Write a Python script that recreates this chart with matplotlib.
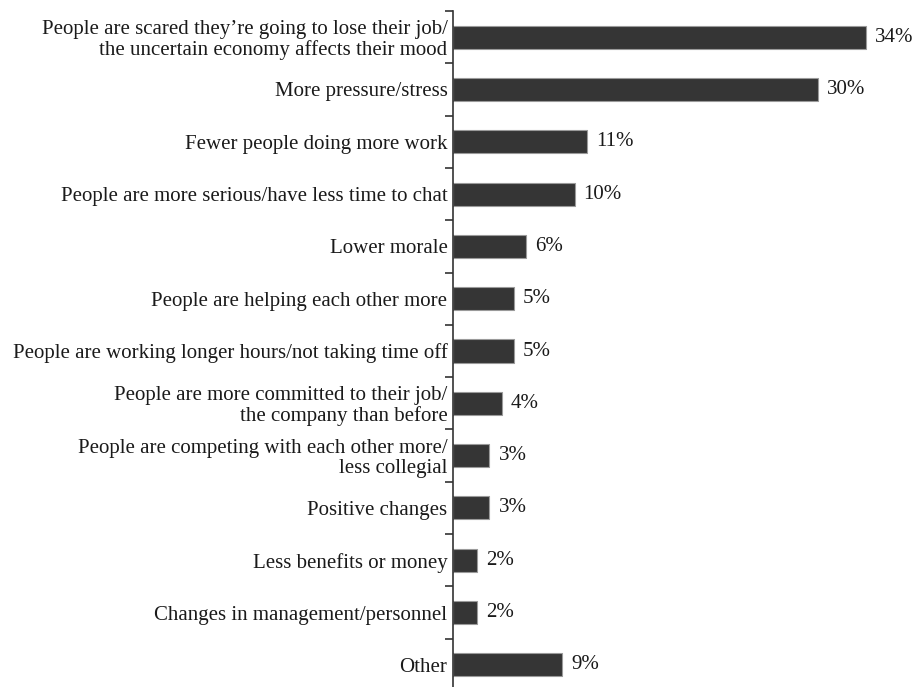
import matplotlib
matplotlib.use("Agg")
import matplotlib.pyplot as plt
import numpy as np

categories = [
    "People are scared they\u2019re going to lose their job/\nthe uncertain economy affects their mood",
    "More pressure/stress",
    "Fewer people doing more work",
    "People are more serious/have less time to chat",
    "Lower morale",
    "People are helping each other more",
    "People are working longer hours/not taking time off",
    "People are more committed to their job/\nthe company than before",
    "People are competing with each other more/\nless collegial",
    "Positive changes",
    "Less benefits or money",
    "Changes in management/personnel",
    "Other",
]
values = [34, 30, 11, 10, 6, 5, 5, 4, 3, 3, 2, 2, 9]
value_labels = ["34%", "30%", "11%", "10%", "6%", "5%", "5%", "4%", "3%", "3%", "2%", "2%", "9%"]

plt.rcParams['font.family'] = ['Liberation Serif', 'DejaVu Serif']

W, H = 917, 687
fig = plt.figure(figsize=(W / 100, H / 100), dpi=100)
left_px = 453
px_per_unit = 12.15
xmax = 38
ax_w = xmax * px_per_unit
top_px = 11
bot_px = 691
ax = fig.add_axes([left_px / W, 1 - bot_px / H, ax_w / W, (bot_px - top_px) / H])

n = len(categories)
y = np.arange(n)
ax.barh(y, values, height=0.44, color='#353535', edgecolor='#9a9a9a', linewidth=0.8)
ax.set_ylim(n - 0.5, -0.5)
ax.set_xlim(0, xmax)

for yi, v, lab in zip(y, values, value_labels):
    ax.text(v + 0.75, yi, lab, va='center', ha='left', fontsize=15, color='#1a1a1a')

ax.set_yticks(y)
ax.set_yticklabels(categories, fontsize=15, color='#1a1a1a', linespacing=1.08)
ax.tick_params(axis='y', which='major', length=0, pad=4)
ax.set_yticks(np.arange(-0.5, n, 1.0), minor=True)
ax.tick_params(axis='y', which='minor', length=6, width=1.2, color='#333333', direction='out')
ax.set_xticks([])
for s in ['top', 'right', 'bottom']:
    ax.spines[s].set_visible(False)
ax.spines['left'].set_linewidth(1.2)
ax.spines['left'].set_color('#333333')

fig.savefig("out.png", dpi=100)
